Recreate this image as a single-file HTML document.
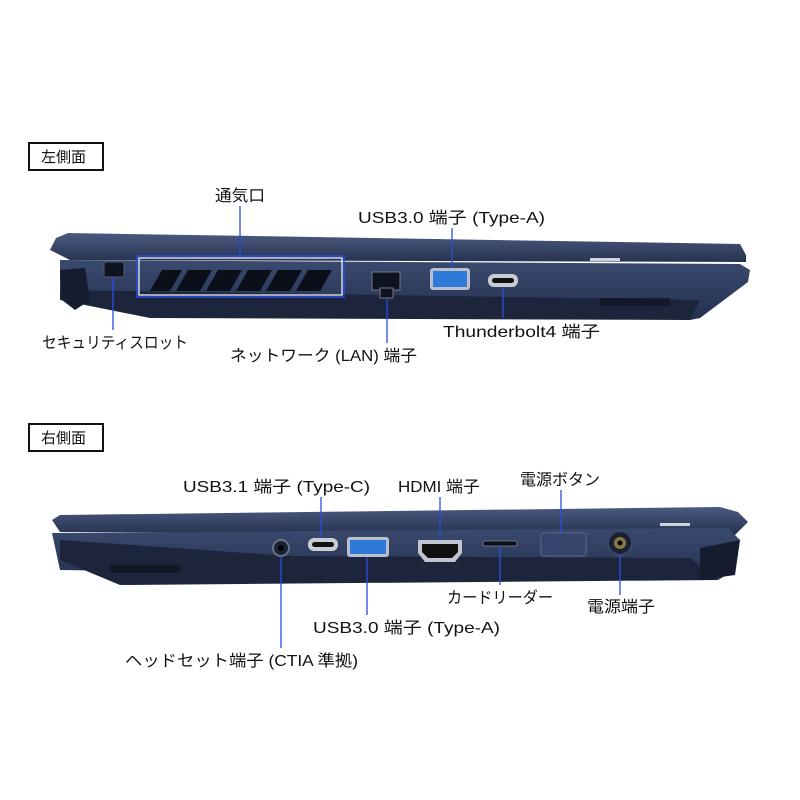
<!DOCTYPE html>
<html><head><meta charset="utf-8"><style>
html,body{margin:0;padding:0;background:#fff;}
svg{display:block}
text{font-family:"Liberation Sans","Noto Sans CJK JP",sans-serif;font-size:16px;fill:#111}
</style></head><body>
<svg width="800" height="800" viewBox="0 0 800 800">
<defs>
<linearGradient id="lid" x1="0" y1="0" x2="0" y2="1"><stop offset="0" stop-color="#4a5a80"/><stop offset="1" stop-color="#26324f"/></linearGradient>
<linearGradient id="base" x1="0" y1="0" x2="0" y2="1"><stop offset="0" stop-color="#3a4a6e"/><stop offset="1" stop-color="#243050"/></linearGradient>
</defs>
<rect x="29" y="143" width="74" height="27" fill="#fff" stroke="#111" stroke-width="2"/>
<text x="41" y="162" style="font-size:15px">左側面</text>
<rect x="29" y="424" width="74" height="27" fill="#fff" stroke="#111" stroke-width="2"/>
<text x="41" y="443" style="font-size:15px">右側面</text>

<!-- LEFT laptop -->
<polygon points="56,238 68,233 740,244 746,255 746,262 70,260 50,250" fill="url(#lid)"/>
<polygon points="60,260 740,264 750,270 748,282 700,318 690,320 60,300" fill="url(#base)"/>
<polygon points="60,290 700,300 690,320 150,318 60,300" fill="#1c253b"/>
<polygon points="60,270 85,268 90,300 75,310 62,300" fill="#151c2e"/>
<rect x="590" y="258" width="30" height="3" fill="#cfd4dc"/>
<rect x="600" y="298" width="70" height="8" fill="#0d1220" opacity="0.7"/>
<rect x="104" y="262" width="20" height="15" rx="2" fill="#0e1322" stroke="#556" stroke-width="1"/>
<rect x="137" y="256" width="207" height="41" fill="none" stroke="#2a4de0" stroke-width="1.5"/>
<rect x="139" y="258" width="203" height="37" fill="none" stroke="#ffffff" stroke-width="1.2"/>
<g fill="#0b0f1a">
<polygon points="150,291 162,270 182,270 170,291"/>
<polygon points="176,291 188,270 212,270 200,291"/>
<polygon points="206,291 218,270 242,270 230,291"/>
<polygon points="236,291 248,270 272,270 260,291"/>
<polygon points="266,291 278,270 302,270 290,291"/>
<polygon points="296,291 308,270 332,270 320,291"/>
</g>
<rect x="372" y="272" width="28" height="18" fill="#0e1322" stroke="#778" stroke-width="1"/>
<rect x="380" y="288" width="13" height="10" fill="#0e1322" stroke="#778" stroke-width="1"/>
<rect x="430" y="268" width="40" height="22" rx="3" fill="#b9c0cc"/>
<rect x="433" y="271" width="34" height="16" fill="#2f7ad8"/>
<rect x="488" y="274" width="30" height="13" rx="6" fill="#c8ccd4"/>
<rect x="492" y="278" width="22" height="5" rx="2.5" fill="#111"/>
<g stroke="#2a4de0" stroke-width="1.3">
<line x1="240" y1="206" x2="240" y2="256"/>
<line x1="452" y1="228" x2="452" y2="268"/>
<line x1="503" y1="287" x2="503" y2="318"/>
<line x1="113" y1="277" x2="113" y2="330"/>
<line x1="387" y1="298" x2="387" y2="343"/>
</g>
<text x="215" y="201" textLength="50" lengthAdjust="spacingAndGlyphs">通気口</text>
<text x="358" y="223" textLength="187" lengthAdjust="spacingAndGlyphs">USB3.0 端子 (Type-A)</text>
<text x="443" y="337" textLength="157" lengthAdjust="spacingAndGlyphs">Thunderbolt4 端子</text>
<text x="42" y="348" textLength="146" lengthAdjust="spacingAndGlyphs">セキュリティスロット</text>
<text x="230" y="361" textLength="187" lengthAdjust="spacingAndGlyphs">ネットワーク (LAN) 端子</text>

<!-- RIGHT laptop -->
<polygon points="52,520 60,515 720,507 738,512 748,522 735,535 60,532" fill="url(#lid)"/>
<polygon points="52,533 728,528 740,540 735,570 718,580 60,570" fill="url(#base)"/>
<polygon points="60,540 290,556 690,558 718,580 120,585 60,560" fill="#1c253b"/>
<polygon points="700,548 740,540 735,575 700,580" fill="#151c2e"/>
<rect x="110" y="565" width="70" height="8" fill="#0d1220" opacity="0.7"/>
<rect x="660" y="523" width="30" height="3" fill="#cfd4dc"/>
<circle cx="281" cy="548" r="8" fill="#1a2133" stroke="#6a7285" stroke-width="2"/>
<circle cx="281" cy="548" r="3" fill="#000"/>
<rect x="308" y="538" width="30" height="13" rx="6" fill="#c8ccd4"/>
<rect x="312" y="542" width="22" height="5" rx="2.5" fill="#111"/>
<rect x="347" y="537" width="42" height="20" rx="3" fill="#b9c0cc"/>
<rect x="350" y="540" width="36" height="14" fill="#2f7ad8"/>
<polygon points="418,540 462,540 462,553 455,562 425,562 418,553" fill="#c0c5cf"/>
<polygon points="422,544 458,544 458,552 452,558 428,558 422,552" fill="#111"/>
<rect x="483" y="541" width="34" height="5" rx="2" fill="#0a0e18" stroke="#889" stroke-width="0.8"/>
<rect x="541" y="533" width="45" height="23" rx="2" fill="#34446a" stroke="#5a6a8e" stroke-width="1"/>
<circle cx="620" cy="543" r="12" fill="#1a2133" stroke="#3a4868" stroke-width="2"/>
<circle cx="620" cy="543" r="6" fill="#8a7a40"/>
<circle cx="620" cy="543" r="2.5" fill="#000"/>
<g stroke="#2a4de0" stroke-width="1.3">
<line x1="321" y1="497" x2="321" y2="538"/>
<line x1="440" y1="497" x2="440" y2="540"/>
<line x1="561" y1="490" x2="561" y2="533"/>
<line x1="367" y1="557" x2="367" y2="615"/>
<line x1="500" y1="546" x2="500" y2="585"/>
<line x1="620" y1="555" x2="620" y2="595"/>
<line x1="281" y1="556" x2="281" y2="648"/>
</g>
<text x="183" y="492" textLength="187" lengthAdjust="spacingAndGlyphs">USB3.1 端子 (Type-C)</text>
<text x="398" y="492" textLength="82" lengthAdjust="spacingAndGlyphs">HDMI 端子</text>
<text x="520" y="485" textLength="80" lengthAdjust="spacingAndGlyphs">電源ボタン</text>
<text x="447" y="603" textLength="106" lengthAdjust="spacingAndGlyphs">カードリーダー</text>
<text x="587" y="612" textLength="68" lengthAdjust="spacingAndGlyphs">電源端子</text>
<text x="313" y="633" textLength="187" lengthAdjust="spacingAndGlyphs">USB3.0 端子 (Type-A)</text>
<text x="125" y="666" textLength="233" lengthAdjust="spacingAndGlyphs">ヘッドセット端子 (CTIA 準拠)</text>
</svg>
</body></html>
